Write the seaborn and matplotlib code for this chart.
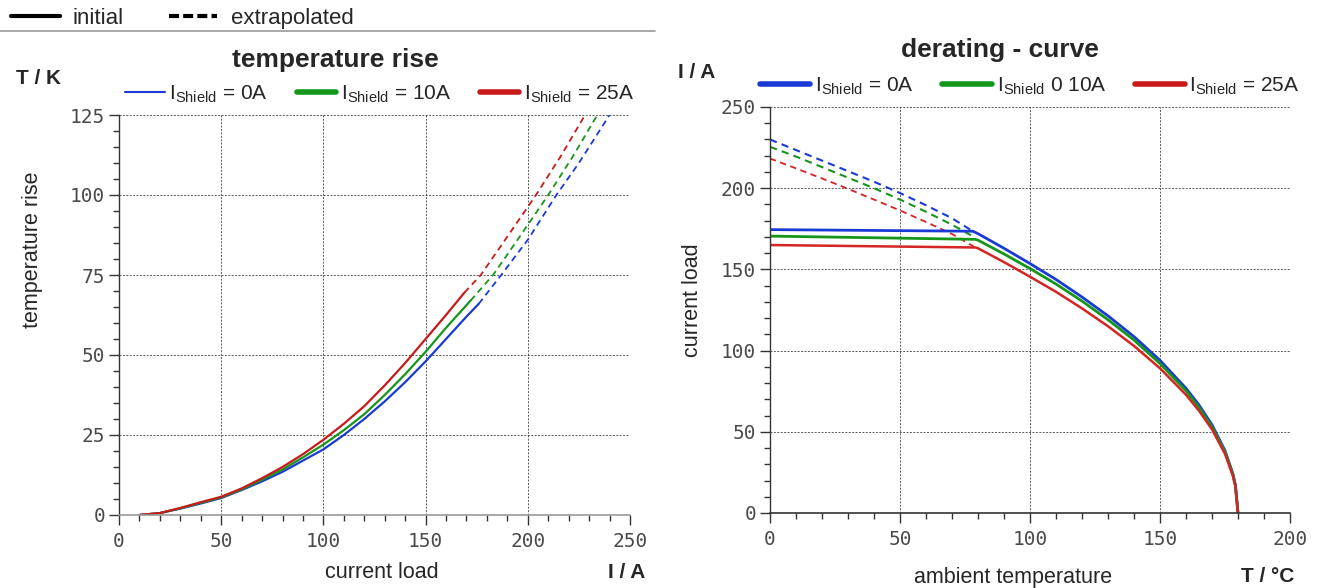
import matplotlib
matplotlib.use("Agg")
import matplotlib.pyplot as plt
from matplotlib.lines import Line2D
from matplotlib.ticker import MultipleLocator
import seaborn as sns
import pandas as pd

# ---------------- data: temperature rise (x = current load A, y = K) -------------
tr_blue_solid_x = [10, 20, 30, 40, 50, 60, 70, 80, 90, 100, 110, 120, 130, 140, 150, 160, 170, 176]
tr_blue_solid_y = [0, 0.6, 2.0, 3.6, 5.3, 7.8, 10.5, 13.5, 17.0, 20.5, 25.0, 30.0, 35.5, 41.5, 48.0, 55.0, 62.0, 66.0]
tr_blue_dash_x = [176, 187, 200, 214, 225, 240]
tr_blue_dash_y = [66.0, 75, 86, 100, 110, 125]

tr_green_solid_x = [10, 20, 30, 40, 50, 60, 70, 80, 90, 100, 110, 120, 130, 140, 150, 160, 172]
tr_green_solid_y = [0, 0.6, 2.1, 3.8, 5.5, 8.0, 11.0, 14.2, 18.0, 22.0, 26.5, 31.5, 37.5, 44.0, 51.0, 58.5, 67.0]
tr_green_dash_x = [172, 183, 195, 210, 222, 234]
tr_green_dash_y = [67.0, 75, 86, 100, 112, 125]

tr_red_solid_x = [10, 20, 30, 40, 50, 60, 70, 80, 90, 100, 110, 120, 130, 140, 150, 160, 169]
tr_red_solid_y = [0, 0.6, 2.2, 4.0, 5.7, 8.3, 11.5, 15.0, 19.0, 23.5, 28.5, 34.0, 40.5, 47.5, 55.0, 62.5, 69.5]
tr_red_dash_x = [169, 177, 190, 204, 216, 228]
tr_red_dash_y = [69.5, 75, 87, 100, 112, 125]

# ---------------- data: derating curve (x = ambient temp degC, y = current A) -------
dr_blue_dash_x = [0, 10, 20, 30, 40, 50, 60, 70, 78]
dr_blue_dash_y = [230, 223.5, 217, 210.5, 204, 197, 189.5, 181.5, 173.5]
dr_blue_solid_x = [0, 78, 80, 90, 100, 110, 120, 130, 140, 150, 160, 165, 170, 175, 178, 179, 180]
dr_blue_solid_y = [174.5, 173.5, 172, 163, 153.6, 143.8, 133, 121.4, 108.6, 94, 76.8, 66.5, 54.3, 38.4, 24.3, 17.2, 0]

dr_green_dash_x = [0, 10, 20, 30, 40, 50, 60, 70, 79]
dr_green_dash_y = [225.5, 219.5, 213, 206.5, 200, 193, 185.5, 177.5, 169.5]
dr_green_solid_x = [0, 79, 80, 90, 100, 110, 120, 130, 140, 150, 160, 165, 170, 175, 178, 179, 180]
dr_green_solid_y = [170.5, 168.5, 168, 159.5, 150.5, 141, 130.5, 119, 106.5, 92, 75.3, 65, 53, 37.6, 23.8, 17, 0]

dr_red_dash_x = [0, 10, 20, 30, 40, 50, 60, 70, 79]
dr_red_dash_y = [218.3, 212.2, 206, 199.6, 193, 186.3, 179.2, 171.8, 163.5]
dr_red_solid_x = [0, 79, 80, 90, 100, 110, 120, 130, 140, 150, 160, 165, 170, 175, 178, 179, 180]
dr_red_solid_y = [165, 163.5, 163, 154.5, 145.5, 136.2, 126, 115, 102.9, 89.1, 72.8, 63, 51.5, 36.4, 23, 16.3, 0]

series_labels = [r"I$_{\mathrm{Shield}}$ = 0A", r"I$_{\mathrm{Shield}}$ = 10A", r"I$_{\mathrm{Shield}}$ = 25A"]
series_labels_r = [r"I$_{\mathrm{Shield}}$ = 0A", r"I$_{\mathrm{Shield}}$ 0 10A", r"I$_{\mathrm{Shield}}$ = 25A"]

BLUE = "#1a3ad6"
GREEN = "#15961a"
RED = "#c81a1a"
RED_R = "#d42424"

sns.set_style("white")
plt.rcParams["font.family"] = ["Liberation Sans", "DejaVu Sans"]
plt.rcParams["mathtext.fontset"] = "custom"
plt.rcParams["mathtext.rm"] = "Liberation Sans"

fig = plt.figure(figsize=(13.2, 5.88), dpi=100)
axL = fig.add_axes([119 / 1320, 1 - 515 / 588, (630 - 119) / 1320, (515 - 115) / 588])
axR = fig.add_axes([770 / 1320, 1 - 513 / 588, (1290 - 770) / 1320, (513 - 107) / 588])

DASH = (0, (3.5, 2.5))


def seg(ax, xs, ys, color, lw, dashed=False):
    df = pd.DataFrame({"x": xs, "y": ys})
    line = sns.lineplot(data=df, x="x", y="y", ax=ax, color=color, linewidth=lw,
                        estimator=None, sort=False, legend=False)
    if dashed:
        line.lines[-1].set_linestyle(DASH)


# left chart
seg(axL, tr_blue_solid_x, tr_blue_solid_y, BLUE, 1.6)
seg(axL, tr_blue_dash_x, tr_blue_dash_y, BLUE, 1.3, True)
seg(axL, tr_green_solid_x, tr_green_solid_y, GREEN, 1.6)
seg(axL, tr_green_dash_x, tr_green_dash_y, GREEN, 1.3, True)
seg(axL, tr_red_solid_x, tr_red_solid_y, RED, 1.6)
seg(axL, tr_red_dash_x, tr_red_dash_y, RED, 1.3, True)

# right chart
seg(axR, dr_blue_dash_x, dr_blue_dash_y, BLUE, 1.5, True)
seg(axR, dr_green_dash_x, dr_green_dash_y, GREEN, 1.5, True)
seg(axR, dr_red_dash_x, dr_red_dash_y, RED_R, 1.3, True)
seg(axR, dr_blue_solid_x, dr_blue_solid_y, BLUE, 2.0)
seg(axR, dr_green_solid_x, dr_green_solid_y, GREEN, 2.0)
seg(axR, dr_red_solid_x, dr_red_solid_y, RED_R, 1.8)


def style(ax, xmax, xmaj, ymax, ymaj, xmin_step, ymin_step, bottom_color):
    ax.set_xlim(0, xmax)
    ax.set_ylim(0, ymax)
    ax.xaxis.set_major_locator(MultipleLocator(xmaj))
    ax.yaxis.set_major_locator(MultipleLocator(ymaj))
    ax.xaxis.set_minor_locator(MultipleLocator(xmin_step))
    ax.yaxis.set_minor_locator(MultipleLocator(ymin_step))
    ax.grid(True, which="major", color="#222222", linestyle=(0, (2, 1.5)), linewidth=0.7, alpha=0.75)
    ax.set_axisbelow(True)
    for s in ["top", "right"]:
        ax.spines[s].set_visible(False)
    ax.spines["left"].set_color("#333333")
    ax.spines["left"].set_linewidth(1.0)
    ax.spines["bottom"].set_color(bottom_color)
    ax.spines["bottom"].set_linewidth(1.2)
    ax.tick_params(which="major", direction="out", length=7, width=1, color="#333333",
                   labelsize=14, labelcolor="#4a4a4a", pad=3, bottom=True, left=True)
    ax.tick_params(which="minor", direction="out", length=4, width=1, color="#333333",
                   bottom=True, left=True)
    for lab in ax.get_xticklabels() + ax.get_yticklabels():
        lab.set_family(["DejaVu Sans Mono"])
        lab.set_fontweight("light")
    ax.set_xlabel("")
    ax.set_ylabel("")


style(axL, 250, 50, 125, 25, 10, 5, "#999999")
style(axR, 200, 50, 250, 50, 10, 10, "#333333")
axL.tick_params(axis="x", pad=5)
axR.tick_params(axis="x", pad=5)

# series legends
handL = [Line2D([], [], color=BLUE, lw=1.5), Line2D([], [], color=GREEN, lw=4), Line2D([], [], color=RED, lw=4)]
axL.legend(handL, series_labels, ncol=3, frameon=False, loc="lower center",
           bbox_to_anchor=(0.51, 1.0), fontsize=15, handlelength=1.9, columnspacing=1.4,
           handletextpad=0.2, borderaxespad=0.1)
handR = [Line2D([], [], color=BLUE, lw=4), Line2D([], [], color=GREEN, lw=4), Line2D([], [], color=RED, lw=4)]
axR.legend(handR, series_labels_r, ncol=3, frameon=False, loc="lower center",
           bbox_to_anchor=(0.5, 1.0), fontsize=15, handlelength=2.4, columnspacing=1.4,
           handletextpad=0.2, borderaxespad=0.1)

# titles and axis texts
fig.text(335 / 1320, 1 - 60 / 588, "temperature rise", ha="center", va="center", fontsize=19, fontweight="bold")
fig.text(1000 / 1320, 1 - 50 / 588, "derating - curve", ha="center", va="center", fontsize=19, fontweight="bold")
fig.text(38 / 1320, 1 - 78 / 588, "T / K", ha="center", va="center", fontsize=15, fontweight="bold")
fig.text(697 / 1320, 1 - 73 / 588, "I / A", ha="center", va="center", fontsize=15, fontweight="bold")
fig.text(382 / 1320, 1 - 573 / 588, "current load", ha="center", va="center", fontsize=15.5)
fig.text(627 / 1320, 1 - 573 / 588, "I / A", ha="center", va="center", fontsize=15, fontweight="bold")
fig.text(1013 / 1320, 1 - 577 / 588, "ambient temperature", ha="center", va="center", fontsize=15.5)
fig.text(1268 / 1320, 1 - 577 / 588, "T / °C", ha="center", va="center", fontsize=15, fontweight="bold")
fig.text(33 / 1320, 1 - 250 / 588, "temperature rise", ha="center", va="center", fontsize=15.5, rotation=90)
fig.text(693 / 1320, 1 - 300 / 588, "current load", ha="center", va="center", fontsize=15.5, rotation=90)

# top legend (initial / extrapolated)
top_handles = [Line2D([], [], color="black", lw=3), Line2D([], [], color="black", lw=3, linestyle=(0, (2.4, 1.0)))]
fig.legend(top_handles, ["initial", "extrapolated"], ncol=2, frameon=False, loc="upper left",
           bbox_to_anchor=(-0.007, 1.02), fontsize=16, handlelength=2.2, columnspacing=2.0,
           handletextpad=0.6)
fig.add_artist(Line2D([0, 655 / 1320], [1 - 31 / 588, 1 - 31 / 588], color="#999999", lw=1.2,
                      transform=fig.transFigure))

fig.savefig("out.png", dpi=100)
